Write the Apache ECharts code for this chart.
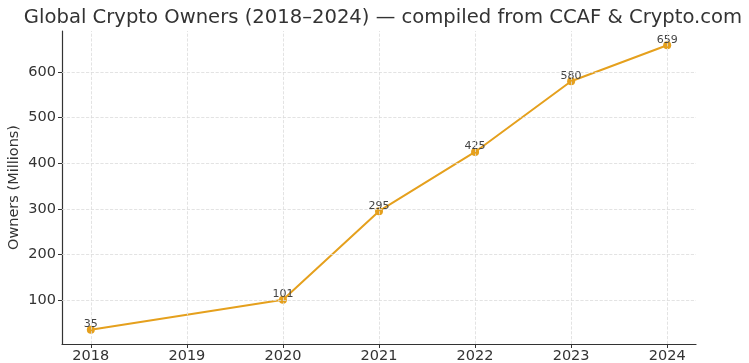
<!DOCTYPE html>
<html><head><meta charset="utf-8">
<script src="https://cdn.jsdelivr.net/npm/echarts@6/dist/echarts.min.js"></script>
<style>html,body{margin:0;padding:0;background:#fff}#c{width:749px;height:363px}</style>
</head><body><div id="c"></div>
<script>
const years = [2018, 2020, 2021, 2022, 2023, 2024];
const owners = [35, 101, 295, 425, 580, 659];
const xTicks = [2018, 2019, 2020, 2021, 2022, 2023, 2024];
const yTicks = [100, 200, 300, 400, 500, 600];

const chart = echarts.init(document.getElementById('c'));
const font = 'DejaVu Sans';
const grid = { type: 'dashed', color: '#dcdcdc', width: 0.8 };
chart.setOption({
  animation: false,
  title: { text: 'Global Crypto Owners (2018–2024) — compiled from CCAF & Crypto.com', left: 378, textAlign: 'center', top: 3,
    textStyle: { fontFamily: font, fontSize: 19.6, fontWeight: 'normal', color: '#333' } },
  grid: { left: 62, right: 53, top: 31, bottom: 19, outerBoundsMode: 'none', containLabel: false },
  xAxis: { type: 'value', min: 2017.7, max: 2024.3,
    axisLine: { lineStyle: { color: '#333', width: 1.2 } },
    axisTick: { customValues: xTicks, length: 4, lineStyle: { color: '#333' } },
    axisLabel: { customValues: xTicks, fontFamily: font, fontSize: 14.5, color: '#333', margin: 5, formatter: v => String(v) },
    splitLine: { show: false } },
  yAxis: { type: 'value', min: 3.8, max: 690.2,
    name: 'Owners (Millions)', nameLocation: 'middle', nameGap: 40, nameMoveOverlap: false,
    nameTextStyle: { fontFamily: font, fontSize: 14.5, color: '#333' },
    axisLine: { show: true, lineStyle: { color: '#333', width: 1.2 } },
    axisTick: { show: true, customValues: yTicks, length: 4, lineStyle: { color: '#333' } },
    axisLabel: { customValues: yTicks, fontFamily: font, fontSize: 14.5, color: '#333', margin: 6 },
    splitLine: { show: false } },
  series: [{
    type: 'line', data: years.map((y, i) => [y, owners[i]]),
    color: '#E5A01D', lineStyle: { width: 2 }, symbol: 'circle', symbolSize: 8,
    label: { show: true, position: 'top', distance: -4, fontFamily: font, fontSize: 11, color: '#444' },
    markLine: { silent: true, symbol: 'none', label: { show: false }, lineStyle: grid, animation: false,
      data: xTicks.map(x => ({ xAxis: x })).concat(yTicks.map(y => ({ yAxis: y }))) },
    z: 3
  }]
});
</script></body></html>
